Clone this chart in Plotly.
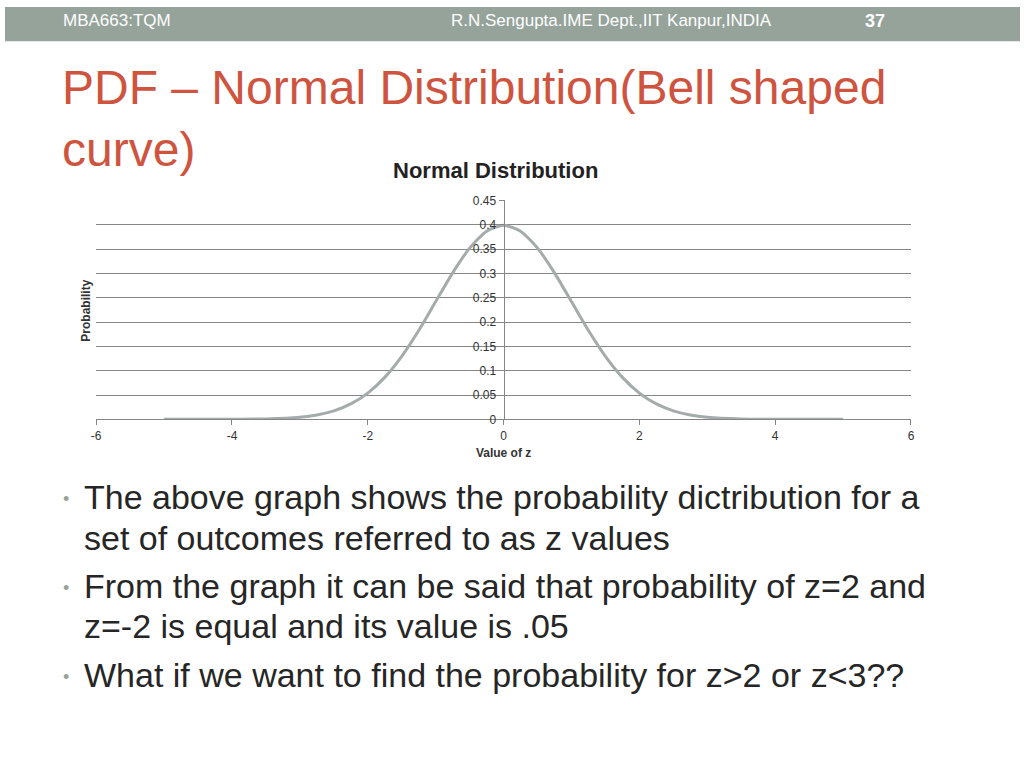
import plotly.graph_objects as go

z_values = [-5, -4.5, -4, -3.5, -3, -2.75, -2.5, -2.25, -2, -1.75, -1.5, -1.25, -1, -0.75, -0.5, -0.25, 0,
            0.25, 0.5, 0.75, 1, 1.25, 1.5, 1.75, 2, 2.25, 2.5, 2.75, 3, 3.5, 4, 4.5, 5]
probability = [0.0000015, 0.000016, 0.00013, 0.00087, 0.0044, 0.0091, 0.0175, 0.0317, 0.054, 0.0863, 0.1295,
               0.1826, 0.242, 0.3011, 0.352, 0.3867, 0.399,
               0.3867, 0.352, 0.3011, 0.242, 0.1826, 0.1295, 0.0863, 0.054, 0.0317, 0.0175, 0.0091, 0.0044,
               0.00087, 0.00013, 0.000016, 0.0000015]
x_ticks = [-6, -4, -2, 0, 2, 4, 6]
x_labels = ["-6", "-4", "-2", "0", "2", "4", "6"]
y_ticks = [0, 0.05, 0.1, 0.15, 0.2, 0.25, 0.3, 0.35, 0.4, 0.45]
y_labels = ["0", "0.05", "0.1", "0.15", "0.2", "0.25", "0.3", "0.35", "0.4", "0.45"]

fig = go.Figure(go.Scatter(x=z_values, y=probability, mode="lines",
                           line=dict(color="#a3acab", width=3, shape="spline", smoothing=0.6),
                           hoverinfo="skip"))

x0, x1 = 92/1024, 914/1024
fig.update_layout(
    autosize=True, margin=dict(l=0, r=0, t=0, b=0),
    paper_bgcolor="white", plot_bgcolor="white", showlegend=False,
    font=dict(family="Liberation Sans, Arial", color="#333"),
    xaxis=dict(domain=[x0, x1], range=[-6, 6], tickvals=x_ticks, ticktext=x_labels, showgrid=False, zeroline=False,
               showline=True, linecolor="#868686", ticks="outside", ticklen=5, tickcolor="#868686",
               tickfont=dict(size=12, color="#333"), anchor="y",
               title=dict(text="<b>Value of z</b>", font=dict(size=12), standoff=6)),
    yaxis=dict(domain=[1-420/768, 1-197/768], range=[0, 0.45], tickvals=y_ticks, ticktext=y_labels,
               anchor="free", position=(x0+x1)/2, showgrid=True, gridcolor="#868686", gridwidth=1,
               zeroline=False, showline=True, linecolor="#868686", ticks="outside", ticklen=5,
               tickcolor="#868686", tickfont=dict(size=12, color="#333")),
    shapes=[dict(type="rect", xref="paper", yref="paper", x0=0, x1=1, y0=1-35/768, y1=1,
                 fillcolor="#95a39b", line_width=0, layer="below")],
)

def txt(x, y, s, size, color="#333", xanchor="left", **kw):
    fig.add_annotation(xref="paper", yref="paper", x=x/1024, y=1-y/768, text=s, showarrow=False,
                       xanchor=xanchor, yanchor="middle", font=dict(size=size, color=color), **kw)

txt(57, 14, "MBA663:TQM", 17, "white")
txt(612, 14, "R.N.Sengupta.IME Dept.,IIT Kanpur,INDIA", 17, "white", xanchor="center")
txt(878, 14, "<b>37</b>", 18, "white", xanchor="center")
txt(55, 82, "PDF – Normal Distribution(Bell shaped", 48, "#cf5440")
txt(55, 145, "curve)", 48, "#cf5440")
txt(495, 167, "<b>Normal Distribution</b>", 22, "#222", xanchor="center")
txt(82, 309, "<b>Probability</b>", 12, "#333", xanchor="center", textangle=-90)
bullets = [(501, "The above graph shows the probability dictribution for a"),
           (543, "set of outcomes referred to as z values"),
           (592, "From the graph it can be said that probability of z=2 and"),
           (633, "z=-2 is equal and its value is .05"),
           (682, "What if we want to find the probability for z>2 or z<3??")]
for y, s in bullets:
    txt(78, y - 2, s, 34, "#262626")
for y in [501, 592, 682]:
    txt(57, y, "•", 18, "#95a39b")

fig.write_html("out.html", default_width="100vw", default_height="100vh",
               config={"displayModeBar": False},
               post_script="document.body.style.margin='0';document.body.style.overflow='hidden';"
                           "var gd=document.getElementById('{plot_id}');Plotly.Plots.resize(gd);")
